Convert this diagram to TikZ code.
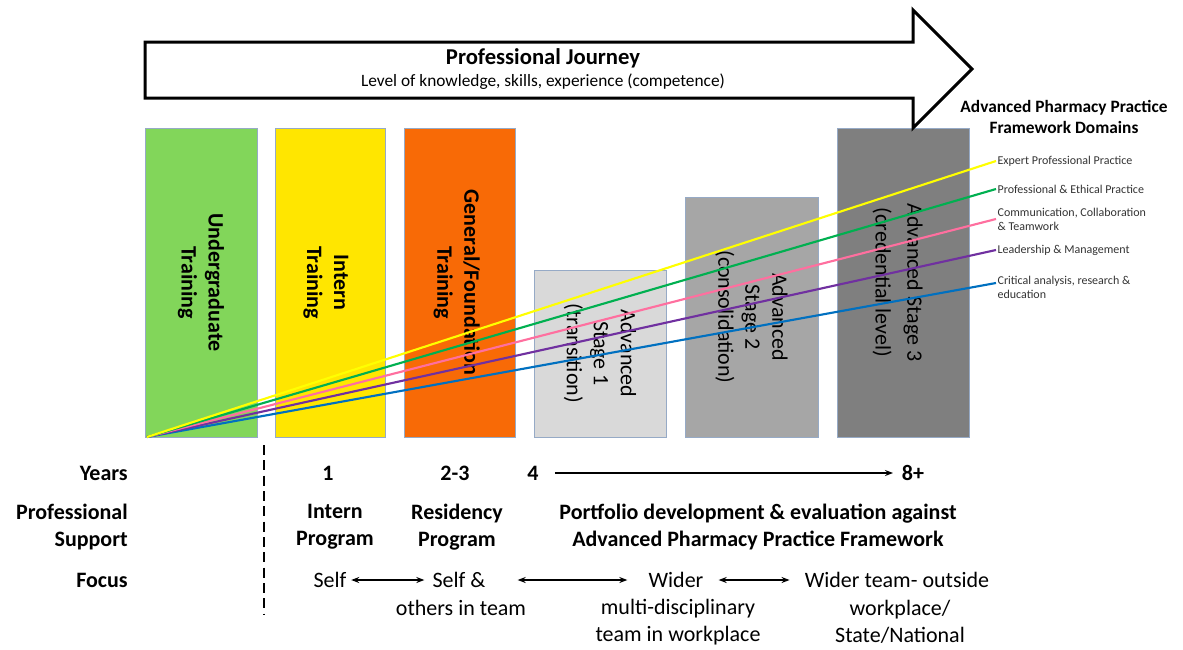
\documentclass[tikz,border=0pt]{standalone}
\usepackage{fontspec}
\setmainfont{Carlito}
\usetikzlibrary{arrows.meta}
\definecolor{ugGreen}{RGB}{130,214,90}
\definecolor{inYellow}{RGB}{255,230,0}
\definecolor{gfOrange}{RGB}{248,106,6}
\definecolor{asOne}{RGB}{217,217,217}
\definecolor{asTwo}{RGB}{166,166,166}
\definecolor{asThree}{RGB}{127,127,127}
\definecolor{boxEdge}{RGB}{150,170,198}
\definecolor{lnYellow}{RGB}{255,255,0}
\definecolor{lnGreen}{RGB}{0,176,80}
\definecolor{lnPink}{RGB}{255,111,159}
\definecolor{lnPurple}{RGB}{112,48,160}
\definecolor{lnBlue}{RGB}{0,112,192}
\begin{document}
\begin{tikzpicture}[x=0.75pt,y=-0.75pt,
  stagebox/.style={draw=boxEdge, line width=0.6pt, inner sep=0pt},
  boxtxt/.style={rotate=-90, align=center, inner sep=0pt, font=\fontsize{16.5}{20.25}\selectfont\bfseries},
  boxtxtr/.style={rotate=-90, align=center, inner sep=0pt, font=\fontsize{16.5}{20.25}\selectfont},
  bt/.style={inner sep=0pt, align=center, font=\fontsize{16.5}{20.25}\selectfont\bfseries},
  rt/.style={inner sep=0pt, align=center, font=\fontsize{16.5}{20.25}\selectfont},
  dom/.style={inner sep=1pt, align=left, font=\fontsize{9}{10.5}\selectfont, text=black!80},
  domline/.style={line width=1.6pt},
  arr/.style={line width=1.1pt, -{Stealth[length=6pt,width=4.5pt]}},
  darr/.style={line width=1.1pt, {Stealth[length=6pt,width=4.5pt]}-{Stealth[length=6pt,width=4.5pt]}}
]
\useasboundingbox (0,0) rectangle (1183,650);

% stage boxes
\node[stagebox, fill=ugGreen, minimum width=84pt, minimum height=231.75pt] (ug) at (201,282.5) {};
\node[stagebox, fill=inYellow, minimum width=82.5pt, minimum height=231.75pt] (it) at (330,282.5) {};
\node[stagebox, fill=gfOrange, minimum width=83.25pt, minimum height=231.75pt] (gf) at (459.5,282.5) {};
\node[stagebox, fill=asOne, minimum width=99pt, minimum height=125.25pt] (a1) at (600,353.5) {};
\node[stagebox, fill=asTwo, minimum width=99.75pt, minimum height=180pt] (a2) at (751.5,317) {};
\node[stagebox, fill=asThree, minimum width=99pt, minimum height=231.75pt] (a3) at (903,282.5) {};

\node[boxtxt] (ugt) at (ug.center) {Undergraduate\\Training};
\node[boxtxt] (itt) at ([xshift=-3]it.center) {Intern\\Training};
\node[boxtxt] (gft) at ([xshift=-2]gf.center) {General/Foundation\\Training};
\node[boxtxtr] (a1t) at (a1.center) {Advanced\\Stage 1\\(transition)};
\node[boxtxtr] (a2t) at (a2.center) {Advanced\\Stage 2\\(consolidation)};
\node[boxtxtr] (a3t) at ([xshift=-4]a3.center) {Advanced Stage 3\\[3.5pt](credential level)};

% big arrow
\draw[line width=2.25pt, fill=white, line join=miter]
  (145,42) -- (913,42) -- (913,10) -- (972,69) -- (913,128) -- (913,98) -- (145,98) -- cycle;
\node[bt, font=\fontsize{17}{20}\selectfont\bfseries] (pj) at (543,58) {Professional Journey};
\node[rt, font=\fontsize{13}{16}\selectfont] (pjs) at (543,82) {Level of knowledge, skills, experience (competence)};

% domains
\node[bt, font=\fontsize{13}{15.75}\selectfont\bfseries] (dt) at (1064,117) {Advanced Pharmacy Practice\\Framework Domains};
\coordinate (o) at (147,437);
\node[dom, anchor=west] (d1) at (996,161) {Expert Professional Practice};
\node[dom, anchor=west] (d2) at (996,189) {Professional \& Ethical Practice};
\node[dom, anchor=west] (d3) at (996,219) {Communication, Collaboration\\\& Teamwork};
\node[dom, anchor=west] (d4) at (996,250) {Leadership \& Management};
\node[dom, anchor=north west] (d5) at (996,275) {Critical analysis, research \&\\education};
\coordinate (e5) at (996,283);

\draw[domline, lnBlue] (o) -- (e5);
\draw[domline, lnPurple] (o) -- (d4.west);
\draw[domline, lnPink] (o) -- (d3.west);
\draw[domline, lnGreen] (o) -- (d2.west);
\draw[domline, lnYellow] (o) -- (d1.west);

% dashed separator
\draw[line width=1.6pt, dash pattern=on 7.5pt off 4pt] (264,445) -- (264,615);

% Years row
\node[bt, anchor=east] (years) at (128,473) {Years};
\node[bt] (y1) at (328,473) {1};
\node[bt] (y23) at (455,473) {2-3};
\node[bt] (y4) at (533,473) {4};
\node[bt] (y8) at (913,473) {8+};
\draw[arr, shorten <=12pt, shorten >=6.5pt] (y4) -- (y8);

% Professional support row
\node[bt, anchor=east, align=right] (ps) at (128,527) {Professional\\Support};
\node[bt] (ip) at (335,527) {Intern\\Program};
\node[bt] (rp) at (457,527) {Residency\\Program};
\node[bt] (pf) at (758,527) {Portfolio development \& evaluation against\\Advanced Pharmacy Practice Framework};

% Focus row
\node[bt, anchor=east] (focus) at (128,580) {Focus};
\node[rt] (self) at (330,580) {Self};
\node[rt] (selfa) at (459,580) {Self \&};
\node[rt] (others) at (461,608) {others in team};
\node[rt] (wider) at (676,580) {Wider};
\node[rt] (multi) at (678,622) {multi-disciplinary\\team in workplace};
\node[rt] (wteam) at (897,580) {Wider team- outside};
\node[rt] (wplace) at (900,622) {workplace/\\State/National};

\draw[darr, shorten <=3.4pt, shorten >=6pt] (self) -- (selfa);
\draw[darr, shorten <=24pt, shorten >=15.75pt] (selfa) -- (wider);
\draw[darr, shorten <=11.25pt, shorten >=11.25pt] (wider) -- (wteam);
\end{tikzpicture}
\end{document}
